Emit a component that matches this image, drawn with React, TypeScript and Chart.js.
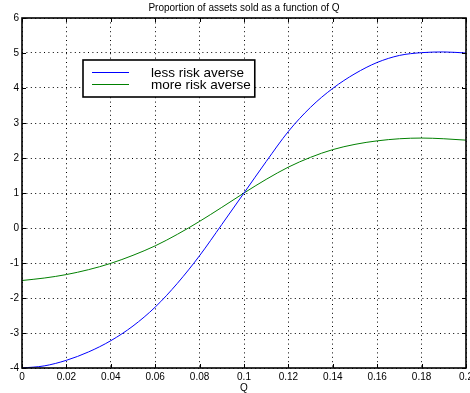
import React, { useEffect, useRef } from "react";
import { Chart, registerables } from "chart.js";

Chart.register(...registerables);

const chartTitle = "Proportion of assets sold as a function of Q";
const xAxisLabel = "Q";
const seriesLabels = ["less risk averse", "more risk averse"];
const seriesColors = ["#0000ff", "#008000"];

const qValues = [0, 0.01, 0.02, 0.03, 0.04, 0.05, 0.06, 0.07, 0.08, 0.09, 0.1, 0.11, 0.12, 0.13, 0.14, 0.15, 0.16, 0.17, 0.18, 0.19, 0.2];
const lessRiskAverse = [-4.0, -3.94, -3.78, -3.54, -3.22, -2.8, -2.26, -1.58, -0.79, 0.1, 1.0, 1.9, 2.76, 3.45, 3.99, 4.41, 4.73, 4.93, 5.01, 5.03, 5.0];
const moreRiskAverse = [-1.5, -1.43, -1.33, -1.19, -1.01, -0.78, -0.51, -0.18, 0.19, 0.59, 1.0, 1.39, 1.74, 2.02, 2.24, 2.39, 2.49, 2.55, 2.57, 2.55, 2.51];

const xMin = 0, xMax = 0.2, xStep = 0.02;
const yMin = -4, yMax = 6, yStep = 1;

const FONT = "'Liberation Sans', Arial, Helvetica, sans-serif";

const framePlugin = {
  id: "matlabFrame",
  afterDraw(chart: any) {
    const { ctx, chartArea: a, scales } = chart;
    ctx.save();
    // inward ticks
    ctx.strokeStyle = "#000";
    ctx.lineWidth = 1;
    const tl = 4;
    ctx.beginPath();
    scales.x.ticks.forEach((t: any) => {
      const px = Math.round(scales.x.getPixelForValue(t.value)) + 0.5;
      ctx.moveTo(px, a.bottom); ctx.lineTo(px, a.bottom - tl);
      ctx.moveTo(px, a.top); ctx.lineTo(px, a.top + tl);
    });
    scales.y.ticks.forEach((t: any) => {
      const py = Math.round(scales.y.getPixelForValue(t.value)) + 0.5;
      ctx.moveTo(a.left, py); ctx.lineTo(a.left + tl, py);
      ctx.moveTo(a.right, py); ctx.lineTo(a.right - tl, py);
    });
    ctx.stroke();
    // frame
    ctx.lineWidth = 1.6;
    ctx.strokeRect(a.left, a.top, a.right - a.left, a.bottom - a.top);

    // legend
    ctx.font = `13.5px ${FONT}`;
    const labels = chart.data.datasets.map((d: any) => d.label);
    const maxW = Math.max(...labels.map((l: string) => ctx.measureText(l).width));
    const bx = a.left + 61, by = a.top + 42;
    const lineStart = 9, lineLen = 37, textOff = 68, rowH = 12, padTop = 12;
    const bw = textOff + maxW + 4, bh = padTop * 2 + rowH * (labels.length - 1) + 1;
    ctx.fillStyle = "#fff";
    ctx.fillRect(bx, by, bw, bh);
    ctx.lineWidth = 1.6;
    ctx.strokeStyle = "#000";
    ctx.strokeRect(bx, by, bw, bh);
    chart.data.datasets.forEach((d: any, i: number) => {
      const y = by + padTop + i * rowH;
      ctx.strokeStyle = d.borderColor;
      ctx.lineWidth = 1;
      ctx.beginPath();
      ctx.moveTo(bx + lineStart, y + 0.5);
      ctx.lineTo(bx + lineStart + lineLen, y + 0.5);
      ctx.stroke();
      ctx.fillStyle = "#000";
      ctx.textAlign = "left";
      ctx.textBaseline = "middle";
      ctx.fillText(d.label, bx + textOff, y + 1);
    });

    // title
    ctx.font = `10px ${FONT}`;
    ctx.fillStyle = "#000";
    ctx.textAlign = "center";
    ctx.textBaseline = "middle";
    ctx.fillText(chartTitle, (a.left + a.right) / 2, 8);
    ctx.restore();
  },
};

export default function App() {
  const ref = useRef<HTMLCanvasElement | null>(null);
  useEffect(() => {
    document.body.style.margin = "0";
    document.body.style.overflow = "hidden";
    if (!ref.current) return;
    const chart = new Chart(ref.current, {
      type: "line",
      data: {
        datasets: [
          {
            label: seriesLabels[0],
            data: qValues.map((q, i) => ({ x: q, y: lessRiskAverse[i] })),
            borderColor: seriesColors[0],
            borderWidth: 1,
            pointRadius: 0,
            cubicInterpolationMode: "monotone",
            fill: false,
          },
          {
            label: seriesLabels[1],
            data: qValues.map((q, i) => ({ x: q, y: moreRiskAverse[i] })),
            borderColor: seriesColors[1],
            borderWidth: 1,
            pointRadius: 0,
            cubicInterpolationMode: "monotone",
            fill: false,
          },
        ],
      },
      options: {
        animation: false,
        responsive: false,
        devicePixelRatio: 1,
        layout: { padding: { top: 18, right: 4, left: 0, bottom: 0 } },
        plugins: {
          legend: { display: false },
          title: { display: false },
          tooltip: { enabled: false },
        },
        scales: {
          x: {
            type: "linear",
            min: xMin,
            max: xMax,
            ticks: {
              stepSize: xStep,
              autoSkip: false,
              maxRotation: 0,
              padding: 3,
              color: "#000",
              font: { family: FONT, size: 10 },
              callback: (v: any) => String(Math.round(Number(v) * 100) / 100),
            },
            grid: { color: "#000", lineWidth: 1, drawTicks: false },
            border: { display: false, dash: [1, 3.4] },
            title: {
              display: true,
              text: xAxisLabel,
              color: "#000",
              font: { family: FONT, size: 10 },
              padding: { top: 0, bottom: -1 },
            },
            afterFit: (s: any) => {
              s.height = 25;
              s.paddingLeft = 0;
              s.paddingRight = 0;
            },
          },
          y: {
            type: "linear",
            min: yMin,
            max: yMax,
            ticks: {
              stepSize: yStep,
              padding: 3,
              color: "#000",
              font: { family: FONT, size: 10 },
            },
            grid: { color: "#000", lineWidth: 1, drawTicks: false },
            border: { display: false, dash: [1, 3.4] },
            afterFit: (s: any) => {
              s.width = 22;
              s.paddingTop = 0;
              s.paddingBottom = 0;
            },
          },
        },
      },
      plugins: [framePlugin],
    } as any);
    return () => chart.destroy();
  }, []);
  return (
    <div style={{ width: 470, height: 393, overflow: "hidden" }}>
      <canvas ref={ref} width={470} height={393} style={{ display: "block" }} />
    </div>
  );
}
